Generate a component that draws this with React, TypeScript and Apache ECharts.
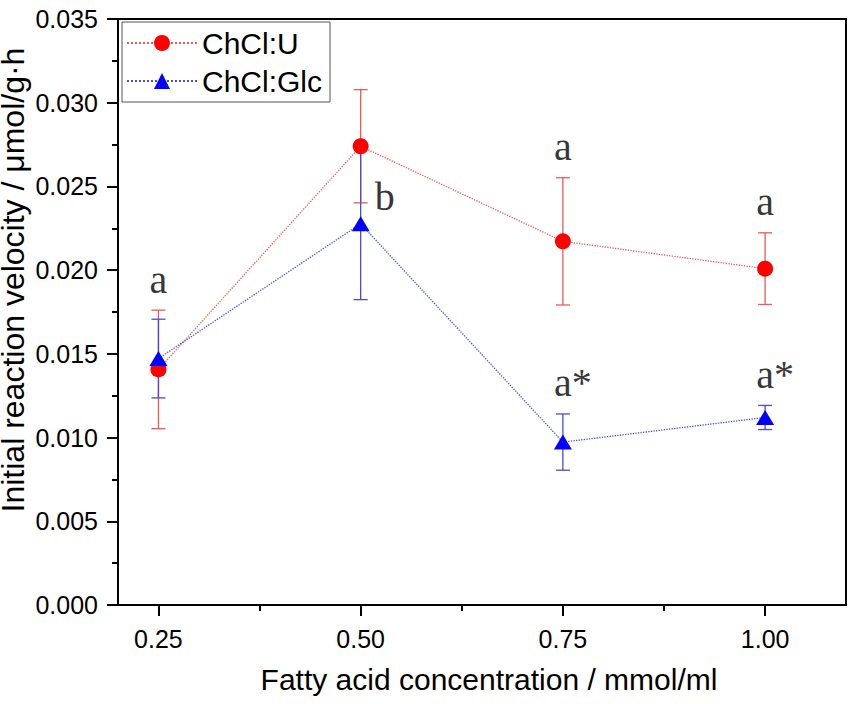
import React, { useEffect, useRef } from "react";
import * as echarts from "echarts";

// ---------- data ----------
const concentrations = [0.25, 0.5, 0.75, 1.0];
const chclU = [0.01407, 0.0274, 0.02172, 0.02009];
const chclUErr = [0.00354, 0.00338, 0.0038, 0.00214];
const chclGlc = [0.01472, 0.02277, 0.00973, 0.0112];
const chclGlcErr = [0.00235, 0.00453, 0.00168, 0.00072];
const xTickValues = [0.25, 0.5, 0.75, 1.0];
const xMinorTickValues = [0.375, 0.625, 0.875];
const seriesNames = ["ChCl:U", "ChCl:Glc"];
// significance letters
const annotationText = ["a", "b", "a", "a", "a*", "a*"];
const annotationSeries = [0, 1, 0, 0, 1, 1]; // 0 = ChCl:U, 1 = ChCl:Glc
const annotationIndex = [0, 1, 2, 3, 2, 3];
const annotationAtMean = [false, true, false, false, false, false];

const RED = "#ff0000";
const BLUE = "#0000ff";
const RED_LINE = "#e85a5a";
const BLUE_LINE = "#4a4ad8";
const SANS = "'Liberation Sans', Arial, Helvetica, sans-serif";
const SERIF = "'Liberation Serif', 'Times New Roman', serif";

function errData(vals: number[], errs: number[]) {
  return concentrations.map((x, i) => [x, vals[i] - errs[i], vals[i] + errs[i]]);
}

function errorBarSeries(vals: number[], errs: number[], color: string) {
  return {
    type: "custom",
    silent: true,
    z: 2,
    data: errData(vals, errs),
    encode: { x: 0, y: [1, 2] },
    renderItem: (params: any, api: any) => {
      const x = api.value(0);
      const lo = api.value(1);
      const hi = api.value(2);
      const top = api.coord([x, hi]);
      const bot = api.coord([x, lo]);
      const w = 7;
      const style = { stroke: color, lineWidth: 1.3 };
      return {
        type: "group",
        children: [
          { type: "line", shape: { x1: top[0], y1: top[1], x2: bot[0], y2: bot[1] }, style },
          { type: "line", shape: { x1: top[0] - w, y1: top[1], x2: top[0] + w, y2: top[1] }, style },
          { type: "line", shape: { x1: bot[0] - w, y1: bot[1], x2: bot[0] + w, y2: bot[1] }, style },
        ],
      };
    },
  };
}

export default function App() {
  const ref = useRef<HTMLDivElement>(null);

  useEffect(() => {
    if (!ref.current) return;
    const chart = echarts.init(ref.current, undefined, { renderer: "svg" });

    const means = [chclU, chclGlc];
    const errs = [chclUErr, chclGlcErr];
    const annotationData = annotationText.map((t, k) => {
      const s = annotationSeries[k];
      const i = annotationIndex[k];
      const y = annotationAtMean[k] ? means[s][i] : means[s][i] + errs[s][i];
      const isStar = t.length > 1;
      return {
        value: [concentrations[i], y],
        label: {
          formatter: t,
          offset: annotationAtMean[k] ? [24, 4] : isStar ? [10, 0] : [0, 0],
        },
      };
    });

    const option: any = {
      animation: false,
      backgroundColor: "#ffffff",
      grid: {
        left: 118,
        right: 6,
        top: 19,
        bottom: 99,
        show: true,
        borderColor: "#000",
        borderWidth: 2,
        backgroundColor: "transparent",
        containLabel: false,
        outerBoundsMode: "none",
      },
      legend: {
        data: seriesNames,
        orient: "vertical",
        left: 122,
        top: 22,
        itemWidth: 70,
        itemHeight: 20,
        itemGap: 8,
        padding: [6, 8, 6, 4],
        borderColor: "#555",
        borderWidth: 1,
        textStyle: { fontSize: 30, fontFamily: SANS, color: "#000" },
      },
      xAxis: [
        {
          type: "value",
          min: 0.2,
          max: 1.1,
          name: "Fatty acid concentration / mmol/ml",
          nameLocation: "middle",
          nameGap: 57,
          nameMoveOverlap: false,
          nameTextStyle: { fontSize: 30, fontFamily: SANS, color: "#000", padding: [2, 0, 0, 14] },
          axisLine: { show: true, onZero: false, lineStyle: { color: "#000", width: 2 } },
          axisTick: {
            show: true,
            inside: false,
            length: 11,
            customValues: xTickValues,
            lineStyle: { color: "#000", width: 2 },
          },
          axisLabel: {
            show: true,
            customValues: xTickValues,
            formatter: (v: number) => v.toFixed(2),
            fontSize: 25,
            fontFamily: SANS,
            color: "#000",
            margin: 21,
          },
          splitLine: { show: false },
        },
        {
          type: "value",
          min: 0.2,
          max: 1.1,
          position: "bottom",
          axisLine: { show: false },
          axisTick: {
            show: true,
            inside: false,
            length: 6,
            customValues: xMinorTickValues,
            lineStyle: { color: "#000", width: 2 },
          },
          axisLabel: { show: false },
          splitLine: { show: false },
        },
      ],
      yAxis: {
        type: "value",
        min: 0,
        max: 0.035,
        interval: 0.005,
        name: "Initial reaction velocity / μmol/g·h",
        nameLocation: "middle",
        nameGap: 89,
        nameMoveOverlap: false,
        nameTextStyle: { fontSize: 32, fontFamily: SANS, color: "#000", padding: [0, 0, 0, 64] },
        axisLine: { show: true, onZero: false, lineStyle: { color: "#000", width: 2 } },
        axisTick: { show: true, inside: false, length: 11, lineStyle: { color: "#000", width: 2 } },
        minorTick: { show: true, splitNumber: 2, length: 6, lineStyle: { color: "#000", width: 2 } },
        axisLabel: {
          formatter: (v: number) => v.toFixed(3),
          fontSize: 25,
          fontFamily: SANS,
          color: "#000",
          margin: 20,
        },
        splitLine: { show: false },
        minorSplitLine: { show: false },
      },
      series: [
        errorBarSeries(chclU, chclUErr, RED_LINE),
        errorBarSeries(chclGlc, chclGlcErr, BLUE_LINE),
        {
          name: seriesNames[0],
          type: "line",
          z: 3,
          data: concentrations.map((x, i) => [x, chclU[i]]),
          symbol: "circle",
          symbolSize: 16,
          itemStyle: { color: RED },
          lineStyle: { color: RED_LINE, width: 1.3, type: "dotted" },
        },
        {
          name: seriesNames[1],
          type: "line",
          z: 3,
          data: concentrations.map((x, i) => [x, chclGlc[i]]),
          symbol: "triangle",
          symbolSize: [18, 15],
          itemStyle: { color: BLUE },
          lineStyle: { color: BLUE_LINE, width: 1.3, type: "dotted" },
        },
        {
          name: "annotations",
          type: "scatter",
          z: 4,
          silent: true,
          symbolSize: 0,
          data: annotationData,
          label: {
            show: true,
            position: "top",
            distance: 11,
            fontSize: 40,
            fontFamily: SERIF,
            color: "#000",
          },
        },
      ],
    };

    chart.setOption(option);
    return () => chart.dispose();
  }, []);

  return (
    <div
      ref={ref}
      style={{ position: "absolute", left: 0, top: 0, width: 852, height: 704, background: "#fff" }}
    />
  );
}
